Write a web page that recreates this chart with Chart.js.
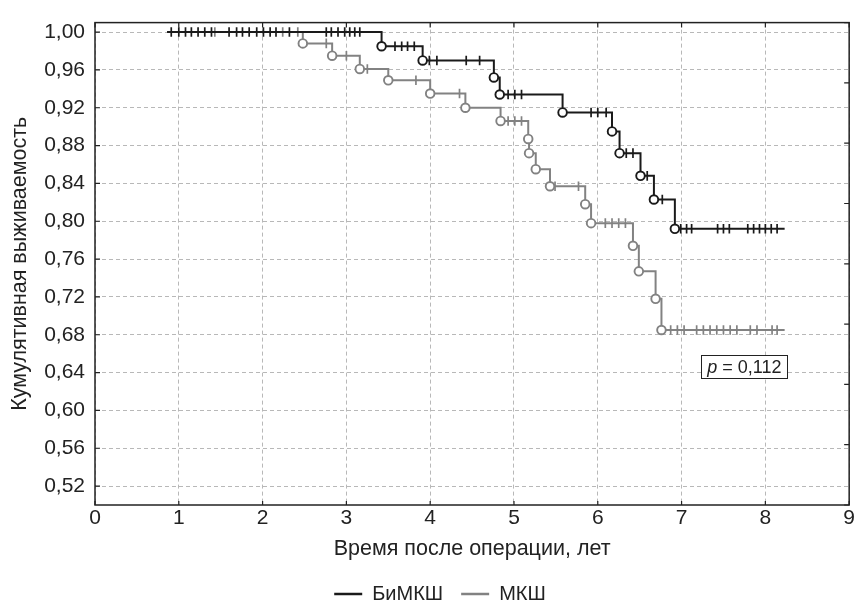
<!DOCTYPE html>
<html>
<head>
<meta charset="utf-8">
<script src="https://cdn.jsdelivr.net/npm/chart.js@4.4.0/dist/chart.umd.min.js"></script>
<style>
  html, body { margin: 0; padding: 0; background: #fff; }
</style>
</head>
<body>
<canvas id="chart" width="856" height="603"></canvas>
<script>
// axis ticks
const xTickValues = [0, 1, 2, 3, 4, 5, 6, 7, 8, 9];
const yTickValues = [0.52, 0.56, 0.60, 0.64, 0.68, 0.72, 0.76, 0.80, 0.84, 0.88, 0.92, 0.96, 1.00];
const rightTickValues = [0, 1, 2, 3, 4, 5, 6, 7, 8];

const groupLabels = ['БиМКШ', 'МКШ'];
const groupColors = ['#1a1a1a', '#828282'];

// БиМКШ : follow-up span, events (time, survival after event), censored times
const bimkshSpan = [0.86, 8.23];
const bimkshEventTimes = [3.42, 3.91, 4.76, 4.83, 5.58, 6.17, 6.26, 6.51, 6.67, 6.92];
const bimkshSurvival = [0.985, 0.970, 0.952, 0.934, 0.915, 0.895, 0.872, 0.848, 0.823, 0.792];
const bimkshCensored = [0.91, 1.00, 1.08, 1.15, 1.23, 1.31, 1.39, 1.60, 1.69, 1.76, 1.84, 1.93, 2.01, 2.09, 2.16, 2.32,
  2.76, 2.82, 2.90, 2.98, 3.04, 3.10, 3.16, 3.58, 3.66, 3.73, 3.81, 3.99, 4.08, 4.43, 4.59, 4.93, 5.01, 5.09,
  5.92, 6.00, 6.10, 6.34, 6.42, 6.59, 6.77, 6.99, 7.06, 7.12, 7.43, 7.50, 7.57, 7.79, 7.86, 7.93, 8.00, 8.07, 8.14];

// МКШ
const mkshSpan = [0.86, 8.23];
const mkshEventTimes = [2.48, 2.83, 3.16, 3.50, 4.00, 4.42, 4.84, 5.17, 5.18, 5.26, 5.43, 5.85, 5.92, 6.42, 6.49, 6.69, 6.76];
const mkshSurvival = [0.988, 0.975, 0.961, 0.949, 0.935, 0.920, 0.906, 0.887, 0.872, 0.855, 0.837, 0.818, 0.798, 0.774, 0.747, 0.718, 0.685];
const mkshCensored = [1.43, 2.24, 2.42, 2.76, 3.00, 3.25, 3.83, 4.35, 4.93, 5.01, 5.09, 5.49, 5.77, 6.09, 6.17, 6.25, 6.33,
  6.87, 6.95, 7.03, 7.18, 7.26, 7.34, 7.42, 7.50, 7.58, 7.66, 7.82, 7.90, 8.08, 8.14];

const pValue = 0.112;
const pValueAt = [7.75, 0.646];

const fontFamily = '"Liberation Sans", Arial, sans-serif';
const textColor = '#222';

// survival level of a curve at time t (last event before t)
function survivalAt(times, surv, t) {
    let s = 1;
    times.forEach((tm, i) => { if (tm <= t) s = surv[i]; });
    return s;
}

// three datasets for each group: circles for events, ticks for censored, and the step line
function groupDatasets(label, color, span, times, surv, censored) {
    const stepPoints = [{x: span[0], y: 1}]
        .concat(times.map((t, i) => ({x: t, y: surv[i]})))
        .concat([{x: span[1], y: surv[surv.length - 1]}]);
    return [
        {
            label: '',
            data: times.map((t, i) => ({x: t, y: surv[i]})),
            pointStyle: 'circle',
            pointRadius: 4.3,
            pointBorderWidth: 1.9,
            pointBackgroundColor: '#fff',
            pointBorderColor: color,
            showLine: false
        },
        {
            label: '',
            data: censored.map(t => ({x: t, y: survivalAt(times, surv, t)})),
            pointStyle: 'line',
            pointRotation: 90,
            pointRadius: 4.8,
            pointBorderWidth: 1.7,
            pointBorderColor: color,
            showLine: false
        },
        {
            label: label,
            data: stepPoints,
            showLine: true,
            stepped: 'before',
            borderColor: color,
            backgroundColor: color,
            borderWidth: 2,
            pointRadius: 0,
            pointBorderWidth: 2.5,
            pointBorderColor: color
        }
    ];
}

// legend sits lower than chart.js puts it by default
const legendHeight = 37;
const legendFitPlugin = {
    id: 'legendFit',
    beforeInit(chart) {
        const fitLegend = chart.legend.fit;
        chart.legend.fit = function () {
            fitLegend.call(this);
            this.height = legendHeight;
        };
    }
};

// frame, inward tick marks and the p value box
const framePlugin = {
    id: 'frame',
    afterDraw(chart) {
        const {ctx, chartArea: a, scales} = chart;
        ctx.save();
        ctx.strokeStyle = '#222';
        ctx.lineWidth = 1.5;
        ctx.strokeRect(a.left, a.top, a.right - a.left, a.bottom - a.top);
        ctx.lineWidth = 1.2;
        ctx.beginPath();
        xTickValues.forEach(v => {
            const px = scales.x.getPixelForValue(v);
            ctx.moveTo(px, a.top); ctx.lineTo(px, a.top + 5);
            ctx.moveTo(px, a.bottom); ctx.lineTo(px, a.bottom - 4);
        });
        yTickValues.forEach(v => {
            const py = scales.y.getPixelForValue(v);
            ctx.moveTo(a.left, py); ctx.lineTo(a.left + 5, py);
        });
        rightTickValues.forEach(v => {
            const py = scales.y2.getPixelForValue(v);
            ctx.moveTo(a.right, py); ctx.lineTo(a.right - 5, py);
        });
        ctx.stroke();

        const cx = scales.x.getPixelForValue(pValueAt[0]);
        const cy = scales.y.getPixelForValue(pValueAt[1]);
        const rest = ' = ' + pValue.toFixed(3).replace('.', ',');
        ctx.font = 'italic 18px ' + fontFamily;
        const pW = ctx.measureText('p').width;
        ctx.font = '18px ' + fontFamily;
        const restW = ctx.measureText(rest).width;
        const w = pW + restW + 12, h = 23;
        ctx.fillStyle = '#fff';
        ctx.fillRect(cx - w / 2, cy - h / 2, w, h);
        ctx.lineWidth = 1;
        ctx.strokeRect(Math.round(cx - w / 2) + 0.5, Math.round(cy - h / 2) + 0.5, Math.round(w), h);
        ctx.fillStyle = textColor;
        ctx.textBaseline = 'middle';
        ctx.textAlign = 'left';
        const x0 = cx - (pW + restW) / 2;
        ctx.font = 'italic 18px ' + fontFamily;
        ctx.fillText('p', x0, cy + 1);
        ctx.font = '18px ' + fontFamily;
        ctx.fillText(rest, x0 + pW, cy + 1);
        ctx.restore();
    }
};

const gridStyle = {color: '#b8b8b8', lineWidth: 1, drawTicks: false};

const ctx = document.getElementById('chart').getContext('2d');
const myChart = new Chart(ctx, {
    type: 'scatter',
    data: {
        datasets: groupDatasets(groupLabels[0], groupColors[0], bimkshSpan, bimkshEventTimes, bimkshSurvival, bimkshCensored)
            .concat(groupDatasets(groupLabels[1], groupColors[1], mkshSpan, mkshEventTimes, mkshSurvival, mkshCensored))
    },
    options: {
        responsive: false,
        animation: false,
        layout: {padding: {left: 0, right: -24, top: 0, bottom: 0}},
        plugins: {
            legend: {
                position: 'bottom',
                labels: {
                    filter: item => item.text !== '',
                    usePointStyle: true,
                    pointStyle: 'line',
                    pointStyleWidth: 28,
                    padding: 18,
                    color: textColor,
                    font: {family: fontFamily, size: 20}
                }
            },
            tooltip: {enabled: false}
        },
        scales: {
            x: {
                type: 'linear',
                position: 'bottom',
                min: 0,
                max: 9,
                afterBuildTicks: scale => { scale.ticks = xTickValues.map(v => ({value: v})); },
                afterFit: scale => { scale.height = 61; },
                ticks: {padding: 1, color: textColor, font: {family: fontFamily, size: 21}},
                grid: gridStyle,
                border: {display: false, dash: [4, 3]},
                title: {
                    display: true,
                    text: 'Время после операции, лет',
                    color: textColor,
                    font: {family: fontFamily, size: 21.5},
                    padding: {top: 0, bottom: 4}
                }
            },
            x2: {
                type: 'linear',
                position: 'top',
                min: 0,
                max: 9,
                ticks: {display: false},
                grid: {display: false, drawTicks: false},
                border: {display: false},
                afterFit: scale => { scale.height = 14; }
            },
            y: {
                type: 'linear',
                position: 'left',
                min: 0.50,
                max: 1.01,
                afterBuildTicks: scale => { scale.ticks = yTickValues.map(v => ({value: v})); },
                afterFit: scale => { scale.width = 95; },
                ticks: {
                    padding: 10,
                    color: textColor,
                    font: {family: fontFamily, size: 21},
                    callback: v => v.toFixed(2).replace('.', ',')
                },
                grid: gridStyle,
                border: {display: false, dash: [4, 3]},
                title: {
                    display: true,
                    text: 'Кумулятивная выживаемость',
                    color: textColor,
                    font: {family: fontFamily, size: 21.5},
                    padding: {top: 7, bottom: 0}
                }
            },
            y2: {
                type: 'linear',
                position: 'right',
                min: 0,
                max: 8,
                afterBuildTicks: scale => { scale.ticks = rightTickValues.map(v => ({value: v})); },
                ticks: {display: false},
                grid: {display: false, drawTicks: false},
                border: {display: false},
                afterFit: scale => { scale.width = 30; }
            }
        }
    },
    plugins: [legendFitPlugin, framePlugin]
});
</script>
</body>
</html>
